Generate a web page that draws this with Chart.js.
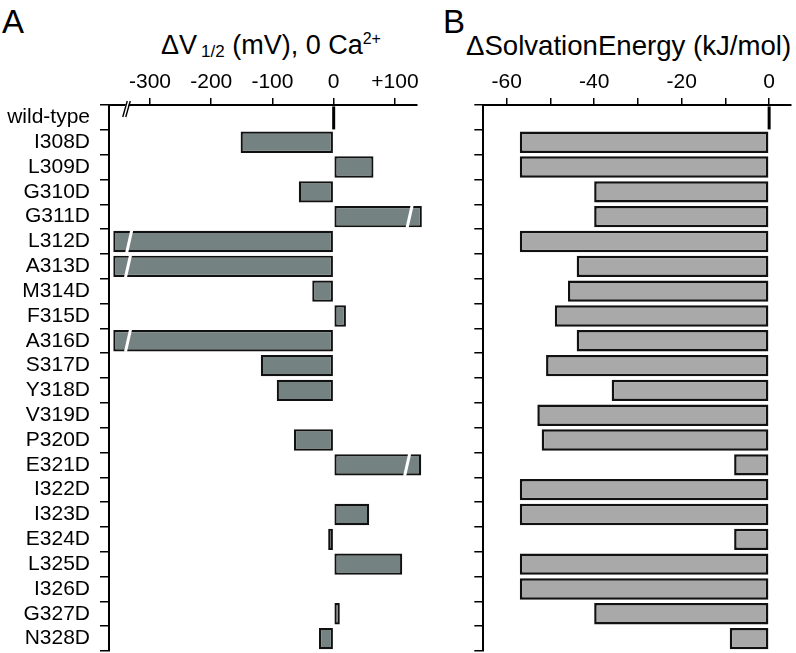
<!DOCTYPE html>
<html><head><meta charset="utf-8">
<script src="https://cdn.jsdelivr.net/npm/chart.js@4.4.1/dist/chart.umd.min.js"></script>
<style>
html,body{margin:0;padding:0;background:#fff;}
body{width:796px;height:653px;position:relative;overflow:hidden;font-family:"Liberation Sans",Arial,sans-serif;color:#000;}
.t{position:absolute;white-space:nowrap;line-height:1;}
.s{position:relative;}
canvas{position:absolute;top:0;}
</style></head><body>
<div class="t" style="left:2px;top:5px;font-size:33px;">A</div>
<div class="t" style="left:443px;top:5px;font-size:33px;">B</div>
<div class="t" style="left:161px;top:32px;font-size:27px;">ΔV<span class="s" style="font-size:17px;top:3px;margin-left:4px;">1/2</span> (mV), 0 Ca<span class="s" style="font-size:16px;top:-10px;">2+</span></div>
<div class="t" style="left:466px;top:32px;font-size:27.6px;">ΔSolvationEnergy (kJ/mol)</div>
<canvas id="cA" width="440" height="653" style="left:0px;"></canvas>
<canvas id="cB" width="366" height="653" style="left:430px;"></canvas>
<script>
const categories = ['wild-type','I308D','L309D','G310D','G311D','L312D','A313D','M314D','F315D','A316D','S317D','Y318D','V319D','P320D','E321D','I322D','I323D','E324D','L325D','I326D','G327D','N328D'];
// ΔV1/2 (mV), 0 Ca2+ ; bars beyond the axis break are shown truncated
const dV = [0, -152, 65, -57, 144, -360, -360, -35, 20, -360, -119, -93, null, -65, 143, null, 58, -9, 112, null, 10, -24];
// ΔSolvation energy (kJ/mol)
const dG = [0, -57, -57, -40, -40, -57, -44, -46, -49, -44, -51, -36, -53, -52, -8, -57, -57, -8, -57, -57, -40, -9];
const vTicks = [-300, -200, -100, 0, 100];
const gTicks = [-60, -50, -40, -30, -20, -10, 0];
const breakRows = ['G311D', 'L312D', 'A313D', 'A316D', 'E321D'];
const breakAt = [124, -334, -336, -336, 120];
const axisBreakAt = -338;

const FONT = '"Liberation Sans", Arial, sans-serif';

const zeroMark = {
  id: 'zeroMark',
  afterDatasetsDraw(chart) {
    const ctx = chart.ctx, xs = chart.scales.x, ys = chart.scales.y;
    chart.data.datasets[0].data.forEach((v, i) => {
      if (v === 0) {
        const x = xs.getPixelForValue(0), y = ys.getPixelForValue(i);
        ctx.save(); ctx.strokeStyle = '#000'; ctx.lineWidth = 3;
        ctx.beginPath(); ctx.moveTo(x, y - 11); ctx.lineTo(x, y + 12); ctx.stroke(); ctx.restore();
      }
    });
  }
};

const breakMarks = {
  id: 'breakMarks',
  afterDraw(chart) {
    const ctx = chart.ctx, xs = chart.scales.x, ys = chart.scales.y;
    const h = 11;
    ctx.save();
    breakRows.forEach((r, k) => {
      const i = categories.indexOf(r);
      const x = xs.getPixelForValue(breakAt[k]), y = ys.getPixelForValue(i);
      ctx.strokeStyle = '#fff'; ctx.lineWidth = 3;
      ctx.beginPath(); ctx.moveTo(x - 2.5, y + h); ctx.lineTo(x + 2.5, y - h); ctx.stroke();
    });
    const ax = xs.getPixelForValue(axisBreakAt), top = chart.chartArea.top;
    ctx.fillStyle = '#fff';
    ctx.beginPath();
    ctx.moveTo(ax - 3, top + 4); ctx.lineTo(ax + 0.5, top - 4); ctx.lineTo(ax + 3.5, top - 4); ctx.lineTo(ax, top + 4);
    ctx.closePath(); ctx.fill();
    ctx.strokeStyle = '#000'; ctx.lineWidth = 1.4;
    ctx.beginPath();
    ctx.moveTo(ax - 4, top + 12); ctx.lineTo(ax + 0.5, top - 4);
    ctx.moveTo(ax - 1, top + 12); ctx.lineTo(ax + 3.5, top - 4);
    ctx.stroke();
    ctx.restore();
  }
};

function baseOpts(xmin, xmax, ticks, labelFn, yWidth, rightPad, showY) {
  return {
    indexAxis: 'y', responsive: false, animation: false, devicePixelRatio: 1,
    layout: { padding: { left: 0, top: 0, right: rightPad, bottom: 2 } },
    plugins: { legend: { display: false }, tooltip: { enabled: false } },
    scales: {
      x: {
        type: 'linear', position: 'top', min: xmin, max: xmax,
        afterBuildTicks: s => { s.ticks = ticks.map(v => ({ value: v })); },
        afterFit: s => { s.height = 105; s.paddingLeft = 0; s.paddingRight = 0; },
        ticks: { callback: labelFn, font: { family: FONT, size: 21 }, color: '#000', padding: 3, maxRotation: 0, autoSkip: false },
        grid: { drawOnChartArea: false, drawTicks: true, tickLength: 7, color: '#000', lineWidth: 1.5 },
        border: { display: true, color: '#000', width: 2 }
      },
      y: {
        type: 'category', offset: true,
        afterFit: s => { s.width = yWidth; s.paddingTop = 0; s.paddingBottom = 0; },
        ticks: { display: showY, font: { family: FONT, size: 21 }, color: '#000', padding: 10, autoSkip: false },
        grid: { offset: true, drawOnChartArea: false, drawTicks: true, tickLength: 9, color: '#000', lineWidth: 1.5 },
        border: { display: true, color: '#000', width: 2 }
      }
    }
  };
}

new Chart(document.getElementById('cA'), {
  type: 'bar',
  data: { labels: categories, datasets: [{ data: dV, backgroundColor: '#748381', borderColor: '#111', borderWidth: 2.2, borderSkipped: false, barPercentage: 0.86, categoryPercentage: 1, clip: false }] },
  options: baseOpts(-367, 135.6, vTicks, v => v > 0 ? '+' + v : String(v), 109, 23.3, true),
  plugins: [zeroMark, breakMarks]
});

new Chart(document.getElementById('cB'), {
  type: 'bar',
  data: { labels: categories, datasets: [{ data: dG, backgroundColor: '#a9a9a9', borderColor: '#111', borderWidth: 2.5, borderSkipped: false, barPercentage: 0.86, categoryPercentage: 1, clip: false }] },
  options: baseOpts(-65.35, 5, gTicks, v => (v % 20 === 0 ? String(v) : ''), 53.3, 5, false),
  plugins: [zeroMark]
});
</script>
</body></html>
